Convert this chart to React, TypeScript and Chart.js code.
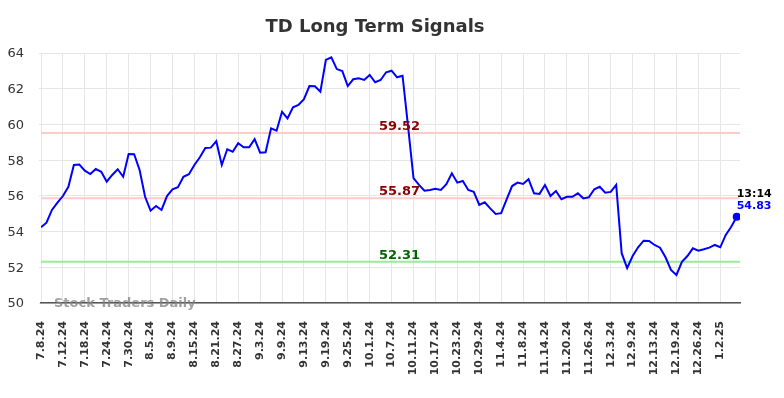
import React, { useEffect, useRef } from 'react';
import { Chart, registerables } from 'chart.js';

Chart.register(...registerables);

const chartTitle = 'TD Long Term Signals';
const watermarkText = 'Stock Traders Daily';
const lastTimeLabel = '13:14';

const dateLabels = [
  '7.8.24', '7.9.24', '7.10.24', '7.11.24', '7.12.24', '7.15.24', '7.16.24', '7.17.24',
  '7.18.24', '7.19.24', '7.22.24', '7.23.24', '7.24.24', '7.25.24', '7.26.24', '7.29.24',
  '7.30.24', '7.31.24', '8.1.24', '8.2.24', '8.5.24', '8.6.24', '8.7.24', '8.8.24',
  '8.9.24', '8.12.24', '8.13.24', '8.14.24', '8.15.24', '8.16.24', '8.19.24', '8.20.24',
  '8.21.24', '8.22.24', '8.23.24', '8.26.24', '8.27.24', '8.28.24', '8.29.24', '8.30.24',
  '9.3.24', '9.4.24', '9.5.24', '9.6.24', '9.9.24', '9.10.24', '9.11.24', '9.12.24',
  '9.13.24', '9.16.24', '9.17.24', '9.18.24', '9.19.24', '9.20.24', '9.23.24', '9.24.24',
  '9.25.24', '9.26.24', '9.27.24', '9.30.24', '10.1.24', '10.2.24', '10.3.24', '10.4.24',
  '10.7.24', '10.8.24', '10.9.24', '10.10.24', '10.11.24', '10.14.24', '10.15.24', '10.16.24',
  '10.17.24', '10.18.24', '10.21.24', '10.22.24', '10.23.24', '10.24.24', '10.25.24', '10.28.24',
  '10.29.24', '10.30.24', '10.31.24', '11.1.24', '11.4.24', '11.5.24', '11.6.24', '11.7.24',
  '11.8.24', '11.11.24', '11.12.24', '11.13.24', '11.14.24', '11.15.24', '11.18.24', '11.19.24',
  '11.20.24', '11.21.24', '11.22.24', '11.25.24', '11.26.24', '11.27.24', '11.29.24', '12.2.24',
  '12.3.24', '12.4.24', '12.5.24', '12.6.24', '12.9.24', '12.10.24', '12.11.24', '12.12.24',
  '12.13.24', '12.16.24', '12.17.24', '12.18.24', '12.19.24', '12.20.24', '12.23.24', '12.24.24',
  '12.26.24', '12.27.24', '12.30.24', '12.31.24', '1.2.25', '1.3.25', '1.6.25', '1.7.25',
];

const signalValues = [
  54.24, 54.50, 55.21, 55.62, 55.99, 56.51, 57.73, 57.75,
  57.41, 57.22, 57.50, 57.35, 56.79, 57.17, 57.49, 57.07,
  58.34, 58.33, 57.45, 55.95, 55.17, 55.43, 55.21, 55.99,
  56.37, 56.48, 57.07, 57.21, 57.73, 58.16, 58.68, 58.70,
  59.06, 57.73, 58.61, 58.47, 58.95, 58.72, 58.72, 59.18,
  58.42, 58.44, 59.78, 59.65, 60.71, 60.34, 60.96, 61.09,
  61.41, 62.15, 62.14, 61.83, 63.61, 63.76, 63.10, 62.99,
  62.15, 62.53, 62.58, 62.49, 62.77, 62.36, 62.49, 62.92,
  63.01, 62.64, 62.73, 59.90, 57.00, 56.61, 56.29, 56.33,
  56.40, 56.33, 56.65, 57.26, 56.74, 56.83, 56.33, 56.23,
  55.49, 55.64, 55.30, 54.99, 55.03, 55.80, 56.55, 56.74,
  56.67, 56.93, 56.14, 56.11, 56.61, 55.99, 56.27, 55.81,
  55.95, 55.95, 56.14, 55.86, 55.92, 56.37, 56.51, 56.18,
  56.22, 56.61, 52.79, 51.95, 52.63, 53.12, 53.49, 53.47,
  53.25, 53.10, 52.56, 51.85, 51.57, 52.31, 52.63, 53.06,
  52.93, 53.01, 53.10, 53.25, 53.12, 53.81, 54.27, 54.83,
];

const levelValues = [59.52, 55.87, 52.31];
const levelLineColors = ['#ffcaca', '#ffcaca', '#98ec98'];
const levelTextColors = ['#8b0000', '#8b0000', '#006400'];

const yMin = 50;
const yMax = 64;
const yStep = 2;
const xTickEvery = 4;

const FONT = '"DejaVu Sans", sans-serif';

const decorPlugin = {
  id: 'decor',
  beforeDatasetsDraw(chart: any) {
    const { ctx, chartArea, scales } = chart;
    ctx.save();
    levelValues.forEach((v, i) => {
      const y = scales.y.getPixelForValue(v);
      ctx.strokeStyle = levelLineColors[i];
      ctx.lineWidth = 2;
      ctx.beginPath();
      ctx.moveTo(chartArea.left, y);
      ctx.lineTo(chartArea.right, y);
      ctx.stroke();
    });
    ctx.restore();
  },
  afterDatasetsDraw(chart: any) {
    const { ctx, chartArea, scales } = chart;
    ctx.save();
    ctx.font = `bold 13px ${FONT}`;
    ctx.textAlign = 'center';
    ctx.textBaseline = 'alphabetic';
    const labelX = chartArea.left + (chartArea.right - chartArea.left) * 0.513;
    levelValues.forEach((v, i) => {
      const y = scales.y.getPixelForValue(v);
      ctx.fillStyle = levelTextColors[i];
      ctx.fillText(v.toFixed(2), labelX, y - 3);
    });
    const lastIdx = signalValues.length - 1;
    const lastVal = signalValues[lastIdx];
    const px = scales.x.getPixelForValue(lastIdx);
    const py = scales.y.getPixelForValue(lastVal);
    ctx.textAlign = 'left';
    ctx.textBaseline = 'middle';
    ctx.font = `bold 11px ${FONT}`;
    ctx.fillStyle = '#000000';
    ctx.fillText(lastTimeLabel, px, py - 23);
    ctx.fillStyle = '#0000ff';
    ctx.fillText(lastVal.toFixed(2), px, py - 10.5);
    ctx.restore();
  },
  afterDraw(chart: any) {
    const { ctx, chartArea, width } = chart;
    ctx.save();
    ctx.font = `bold 13px ${FONT}`;
    ctx.textAlign = 'left';
    ctx.textBaseline = 'alphabetic';
    ctx.fillStyle = 'rgba(130,130,130,0.75)';
    ctx.fillText(watermarkText, chartArea.left + 13, chartArea.bottom + 4);
    ctx.font = `bold 18px ${FONT}`;
    ctx.textAlign = 'center';
    ctx.textBaseline = 'middle';
    ctx.fillStyle = '#333333';
    ctx.fillText(chartTitle, width / 2 - 17, 27);
    ctx.restore();
  },
};

export default function App() {
  const canvasRef = useRef<HTMLCanvasElement | null>(null);

  useEffect(() => {
    const canvas = canvasRef.current;
    if (!canvas) return;
    Chart.defaults.font.family = FONT;
    const lastIdx = signalValues.length - 1;
    const chart = new Chart(canvas, {
      type: 'line',
      data: {
        datasets: [
          {
            data: signalValues.map((v, i) => ({ x: i, y: v })),
            borderColor: '#0000ff',
            backgroundColor: '#0000ff',
            borderWidth: 2,
            tension: 0,
            fill: false,
            pointRadius: (c: any) => (c.dataIndex === lastIdx ? 4 : 0),
            pointBackgroundColor: '#0000ff',
            pointBorderWidth: 0,
            pointHoverRadius: 0,
          },
        ],
      },
      options: {
        responsive: false,
        animation: false,
        layout: { padding: { top: 53, right: 44, left: 0, bottom: 0 } },
        plugins: {
          legend: { display: false },
          title: { display: false },
          tooltip: { enabled: false },
        },
        scales: {
          x: {
            type: 'linear',
            min: 0,
            max: lastIdx + 0.6,
            afterFit: (s: any) => {
              s.height = 95;
            },
            grid: { color: '#e6e6e6', lineWidth: 1, drawTicks: false },
            border: { display: true, color: '#555555', width: 1.5 },
            ticks: {
              stepSize: xTickEvery,
              includeBounds: false,
              autoSkip: false,
              minRotation: 90,
              maxRotation: 90,
              padding: 18,
              color: '#333333',
              font: { size: 11, weight: 'bold', family: FONT },
              callback: (v: any) => dateLabels[v] ?? '',
            },
          },
          y: {
            min: yMin,
            max: yMax,
            afterFit: (s: any) => {
              s.width = 41;
            },
            grid: { color: '#e6e6e6', lineWidth: 1, tickLength: 2 },
            border: { display: false },
            ticks: {
              stepSize: yStep,
              padding: 15,
              labelOffset: 1,
              color: '#333333',
              font: { size: 13, family: FONT },
            },
          },
        },
      },
      plugins: [decorPlugin],
    } as any);
    return () => chart.destroy();
  }, []);

  return (
    <div style={{ position: 'fixed', left: 0, top: 0, width: 784, height: 398, background: '#ffffff' }}>
      <canvas ref={canvasRef} width={784} height={398} style={{ display: 'block', width: 784, height: 398 }} />
    </div>
  );
}
